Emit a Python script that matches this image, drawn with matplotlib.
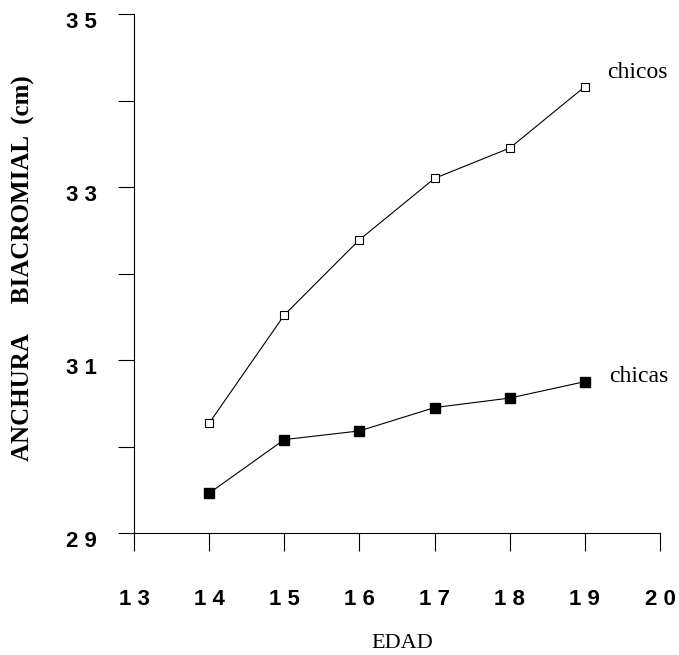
import matplotlib.pyplot as plt
from matplotlib.transforms import ScaledTranslation

# edades y anchura biacromial (cm)
edad = [14, 15, 16, 17, 18, 19]
chicos = [30.27, 31.52, 32.39, 33.10, 33.45, 34.16]
chicas = [29.46, 30.08, 30.18, 30.45, 30.56, 30.75]

x_ticks = [13, 14, 15, 16, 17, 18, 19, 20]
x_labels = ['1 3', '1 4', '1 5', '1 6', '1 7', '1 8', '1 9', '2 0']
y_ticks = [29, 30, 31, 32, 33, 34, 35]
y_labels = ['2 9', '', '3 1', '', '3 3', '', '3 5']

fig = plt.figure(figsize=(6.79, 6.55), dpi=100)
ax = fig.add_axes([134/679, 1 - 533/655, (660 - 134)/679, (533 - 14)/655])

ax.plot(edad, chicos, color='black', linewidth=0.8, marker='s', markersize=6,
        markerfacecolor='white', markeredgecolor='black', markeredgewidth=0.8)
ax.plot(edad, chicas, color='black', linewidth=0.8, marker='s', markersize=7,
        markerfacecolor='black', markeredgecolor='black')

ax.text(edad[-1] + 0.29, chicos[-1] + 0.16, 'chicos', fontsize=17,
        family='Liberation Serif', va='center', ha='left')
ax.text(edad[-1] + 0.32, chicas[-1] + 0.06, 'chicas', fontsize=17,
        family='Liberation Serif', va='center', ha='left')

ax.set_xlim(13, 20)
ax.set_ylim(29, 35)
ax.set_xticks(x_ticks)
ax.set_xticklabels(x_labels, family='Liberation Sans', fontweight='bold', fontsize=16)
ax.set_yticks(y_ticks)
ax.set_yticklabels(y_labels, family='Liberation Sans', fontweight='bold', fontsize=16)
ax.tick_params(axis='x', direction='out', length=13, width=0.8, pad=27)
ax.tick_params(axis='y', direction='out', length=11.5, width=0.8, pad=15)

# etiquetas del eje y un poco mas abajo que la marca, como en el original
shift = ScaledTranslation(0, -6/100, fig.dpi_scale_trans)
for lbl in ax.get_yticklabels():
    lbl.set_transform(lbl.get_transform() + shift)

for s in ['top', 'right']:
    ax.spines[s].set_visible(False)
for s in ['left', 'bottom']:
    ax.spines[s].set_linewidth(0.8)

ax.set_xlabel('EDAD', family='Liberation Serif', fontsize=16, va='center')
ax.xaxis.set_label_coords(0.51, -0.212)
ax.set_ylabel('ANCHURA' + ' ' * 5 + 'BIACROMIAL' + '  ' + '(cm)',
              family='Liberation Serif', fontweight='bold', fontsize=18, va='center')
ax.yaxis.set_label_coords(-0.211, 0.51)

fig.savefig('out.png', dpi=100)
